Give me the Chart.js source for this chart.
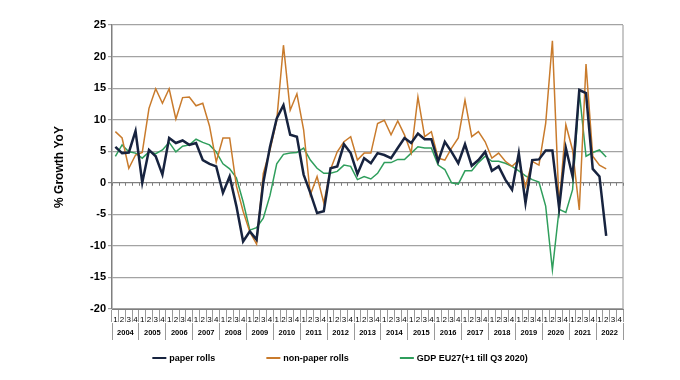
<!DOCTYPE html>
<html>
<head>
<meta charset="utf-8">
<script src="https://cdn.jsdelivr.net/npm/chart.js@4.4.1/dist/chart.umd.min.js"></script>
<style>
  html, body { margin: 0; padding: 0; background: #fff; }
</style>
</head>
<body>
<canvas id="chart" width="680" height="380"></canvas>
<script>
// Paper rolls vs non-paper rolls vs GDP, quarterly YoY growth 2004-2022

const YEARS = ["2004", "2005", "2006", "2007", "2008", "2009", "2010", "2011", "2012", "2013",
  "2014", "2015", "2016", "2017", "2018", "2019", "2020", "2021", "2022"];
const QUARTERS = ["1", "2", "3", "4"];

const PAPER_ROLLS = [
  5.7, 4.7, 4.8, 8.2,   0.0, 5.2, 4.2, 1.3,   7.1, 6.3, 6.7, 6.0,   6.3, 3.6, 3.0, 2.6,
  -1.6, 1.0, -3.7, -9.3, -7.7, -9.0, 0.0, 5.7, 10.2, 12.3, 7.6, 7.3, 1.3, -1.6, -4.8, -4.5,
  2.3, 2.6, 6.1, 4.7,   1.4, 3.9, 3.1, 4.7,   4.4, 3.9, 5.5, 7.1,   6.3, 7.8, 6.9, 6.9,
  3.4, 6.5, 4.9, 3.1,   6.1, 2.7, 3.6, 4.9,   1.9, 2.6, 0.5, -1.1,  4.7, -3.2, 3.6, 3.7,
  5.1, 5.1, -4.0, 5.5,  1.0, 14.7, 14.2, 2.2, 1.0, -8.4,
];
const NON_PAPER_ROLLS = [
  8.1, 7.1, 2.3, 4.4,   4.8, 11.8, 14.9, 12.6, 14.9, 10.1, 13.5, 13.6, 12.2, 12.6, 9.0, 3.3,
  7.1, 7.1, -0.5, -4.5, -7.8, -9.7, 1.5, 5.2, 9.9, 21.8, 11.5, 14.1, 8.4, -1.9, 1.0, -3.2,
  2.1, 4.9, 6.5, 7.3,   3.6, 4.7, 4.7, 9.4,   9.9, 7.6, 9.8, 7.6,   4.7, 13.6, 7.3, 8.1,
  3.9, 3.6, 5.5, 7.1,   13.1, 7.3, 8.1, 6.5,  3.9, 4.7, 3.4, 2.6,   3.6, -0.6, 3.4, 2.8,
  9.4, 22.5, -3.7, 9.2, 5.2, -4.3, 18.8, 4.2, 2.8, 2.2,
];
const GDP_EU27 = [
  4.2, 6.0, 4.9, 4.7,   3.9, 4.9, 4.6, 5.2,   6.4, 4.9, 5.8, 6.0,   6.9, 6.4, 6.0, 4.9,
  3.0, 2.2, 0.8, -3.0,  -7.5, -7.1, -5.6, -2.0, 3.0, 4.5, 4.7, 4.8,  5.5, 3.6, 2.3, 1.5,
  1.5, 1.8, 2.8, 2.6,   0.5, 1.0, 0.6, 1.5,   3.2, 3.2, 3.7, 3.7,   4.7, 5.7, 5.5, 5.5,
  2.8, 2.1, 0.0, -0.2,  1.9, 1.9, 3.2, 4.2,   3.4, 3.4, 3.1, 2.6,   1.9, 1.1, 0.5, 0.1,
  -3.7, -13.8, -4.2, -4.7, -1.1, 14.4, 4.2, 4.8, 5.2, 4.1,
];

const FONT = '"Liberation Sans", Arial, sans-serif';
const GRID = "#a3a3a3";
const AXIS = "#7f7f7f";

const quarterLabels = YEARS.flatMap(() => QUARTERS);

// right edge of the plot box + little tick marks along the zero line
const frame = {
  id: "frame",
  beforeDatasetsDraw(chart) {
    const { ctx, chartArea: a, scales } = chart;
    const y0 = scales.y.getPixelForValue(0);
    const cell = (a.right - a.left) / quarterLabels.length;
    ctx.save();
    ctx.strokeStyle = GRID;
    ctx.lineWidth = 1.2;
    ctx.beginPath();
    ctx.moveTo(a.right, a.top);
    ctx.lineTo(a.right, a.bottom);
    ctx.stroke();
    ctx.strokeStyle = AXIS;
    ctx.lineWidth = 1;
    ctx.beginPath();
    for (let i = 0; i <= quarterLabels.length; i++) {
      const x = Math.round(a.left + i * cell) + 0.5;
      ctx.moveTo(x, y0);
      ctx.lineTo(x, y0 + 3);
    }
    ctx.stroke();
    ctx.restore();
  },
};

// legend row under the year labels, wide gaps like the original
const legendRow = {
  id: "legendRow",
  afterDraw(chart) {
    const { ctx } = chart;
    const sets = chart.data.datasets;
    const y = chart.chartArea.bottom + 49;
    const lineLen = 14, gap = 3, spacing = 51;
    ctx.save();
    ctx.font = `bold 9px ${FONT}`;
    ctx.textBaseline = "middle";
    const widths = sets.map((d) => lineLen + gap + ctx.measureText(d.label).width);
    const total = widths.reduce((s, w) => s + w, 0) + spacing * (sets.length - 1);
    let x = (chart.width - total) / 2;
    sets.forEach((d, i) => {
      ctx.strokeStyle = d.borderColor;
      ctx.lineWidth = 2;
      ctx.beginPath();
      ctx.moveTo(x, y);
      ctx.lineTo(x + lineLen, y);
      ctx.stroke();
      ctx.fillStyle = "#000";
      ctx.fillText(d.label, x + lineLen + gap, y + 0.5);
      x += widths[i] + spacing;
    });
    ctx.restore();
  },
};

new Chart(document.getElementById("chart"), {
  type: "line",
  data: {
    labels: quarterLabels,
    datasets: [
      { label: "paper rolls", data: PAPER_ROLLS, borderColor: "#17233f", borderWidth: 2.5 },
      { label: "non-paper rolls", data: NON_PAPER_ROLLS, borderColor: "#c97b2c", borderWidth: 1.5 },
      { label: "GDP EU27(+1 till Q3 2020)", data: GDP_EU27, borderColor: "#2f9e5c", borderWidth: 1.5 },
    ],
  },
  options: {
    responsive: false,
    animation: false,
    devicePixelRatio: 1,
    elements: { point: { radius: 0 }, line: { tension: 0 } },
    layout: { padding: { top: 25, right: 57, bottom: 37, left: 0 } },
    plugins: { legend: { display: false }, tooltip: { enabled: false } },
    scales: {
      x: {
        type: "category",
        offset: true,
        weight: 0,
        grid: { drawOnChartArea: false, offset: true, tickLength: 13, color: "#9a9a9a" },
        border: { display: true, color: AXIS },
        ticks: {
          autoSkip: false, maxRotation: 0, minRotation: 0, padding: -7,
          color: "#000", font: { family: FONT, size: 8 },
        },
        afterFit(s) { s.height = 14; },
      },
      x2: {
        type: "category",
        labels: YEARS,
        position: "bottom",
        offset: true,
        weight: 1,
        grid: { drawOnChartArea: false, offset: true, tickLength: 17, color: "#9a9a9a" },
        border: { display: false },
        ticks: {
          autoSkip: false, maxRotation: 0, minRotation: 0, padding: -11.5,
          color: "#000", font: { family: FONT, size: 7.5, weight: "bold" },
        },
        afterFit(s) { s.height = 20; },
      },
      y: {
        min: -20,
        max: 25,
        ticks: {
          stepSize: 5, padding: 2, color: "#000",
          font: { family: FONT, size: 11, weight: "bold" },
        },
        grid: {
          color: (c) => (c.tick && c.tick.value === 0 ? AXIS : GRID),
          lineWidth: 1.2,
          tickLength: 4,
        },
        border: { color: AXIS, width: 1.5 },
        title: {
          display: true,
          text: "% Growth YoY",
          color: "#000",
          font: { family: FONT, size: 12, weight: "bold" },
          padding: { top: 52, bottom: 0 },
        },
        afterFit(s) { s.width = 112; },
      },
    },
  },
  plugins: [frame, legendRow],
});
</script>
</body>
</html>
